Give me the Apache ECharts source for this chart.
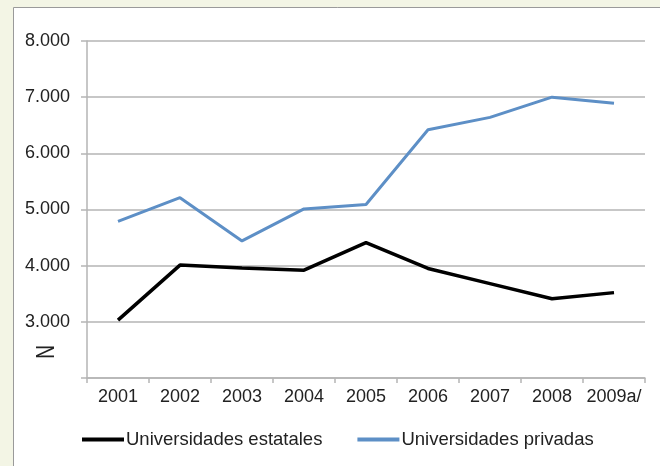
<!DOCTYPE html>
<html>
<head>
<meta charset="utf-8">
<script src="https://cdn.jsdelivr.net/npm/echarts@6/dist/echarts.min.js"></script>
<style>
html,body{margin:0;padding:0;background:#f3f5e5;}
#chart{width:660px;height:466px;}
</style>
</head>
<body>
<div id="chart"></div>
<script>
const categories = ['2001','2002','2003','2004','2005','2006','2007','2008','2009a/'];
const estatales = [3030, 4010, 3960, 3920, 4410, 3950, 3680, 3410, 3520];
const privadas = [4790, 5210, 4440, 5010, 5090, 6420, 6640, 7000, 6890];
const seriesNames = ['Universidades estatales', 'Universidades privadas'];
const yAxisTitle = 'N';

const FONT = '"Liberation Sans", Arial, sans-serif';
const TXT = '#222222';
const BLUE = '#5d8fc6';

const chart = echarts.init(document.getElementById('chart'), null, {renderer: 'canvas'});
chart.setOption({
  backgroundColor: '#f3f5e5',
  animation: false,
  graphic: [
    {type: 'rect', z: -10, silent: true,
     shape: {x: 13.5, y: 7.5, width: 700, height: 500},
     style: {fill: '#ffffff', stroke: '#9a9a9a', lineWidth: 1}},
    {type: 'text', x: 47, y: 352, rotation: Math.PI / 2, scaleX: 1, scaleY: 1.35, z: 10,
     style: {text: yAxisTitle, fontSize: 19, fontFamily: FONT, fill: TXT, align: 'center', verticalAlign: 'middle'}}
  ],
  grid: {left: 87, right: 15, top: 41, bottom: 88, containLabel: false},
  legend: {
    left: 82, top: 430, padding: 0,
    itemWidth: 42, itemHeight: 4, itemGap: 35,
    icon: 'rect',
    textStyle: {fontFamily: FONT, fontSize: 18.5, color: TXT, padding: [0, 0, 0, -3]},
    data: [
      {name: seriesNames[0], itemStyle: {color: '#000000'}},
      {name: seriesNames[1], itemStyle: {color: BLUE}}
    ]
  },
  xAxis: {
    type: 'category',
    data: categories,
    boundaryGap: true,
    axisLine: {lineStyle: {color: '#b5b5b5', width: 1.5}},
    axisTick: {show: true, length: 5, lineStyle: {color: '#b5b5b5', width: 1.5}},
    axisLabel: {fontFamily: FONT, fontSize: 18, color: TXT, margin: 10, interval: 0}
  },
  yAxis: {
    type: 'value',
    min: 2000, max: 8000, interval: 1000,
    axisLine: {show: true, lineStyle: {color: '#b5b5b5', width: 1.5}},
    axisTick: {show: true, length: 6, lineStyle: {color: '#b5b5b5', width: 1.5}},
    splitLine: {show: true, lineStyle: {color: '#b5b5b5', width: 1.5}},
    axisLabel: {
      fontFamily: FONT, fontSize: 18, color: TXT, margin: 17,
      formatter: function (v) {
        if (v === 2000) return '';
        return String(v).replace(/\B(?=(\d{3})+(?!\d))/g, '.');
      }
    }
  },
  series: [
    {name: seriesNames[0], type: 'line', data: estatales, symbol: 'none',
     lineStyle: {color: '#000000', width: 3.5}, itemStyle: {color: '#000000'}},
    {name: seriesNames[1], type: 'line', data: privadas, symbol: 'none',
     lineStyle: {color: BLUE, width: 3}, itemStyle: {color: BLUE}}
  ]
});
</script>
</body>
</html>
